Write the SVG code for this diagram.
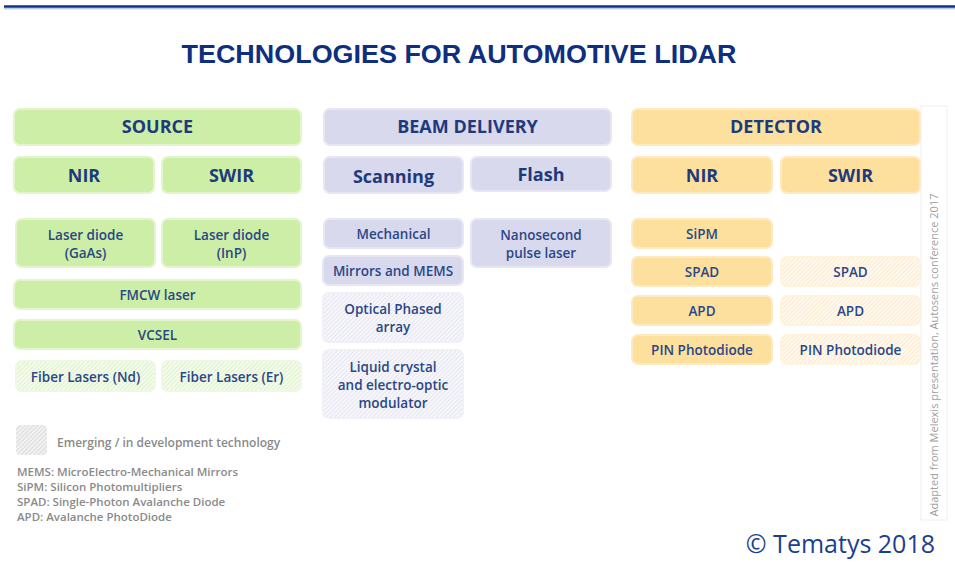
<svg xmlns="http://www.w3.org/2000/svg" width="955" height="568" viewBox="0 0 955 568">
<defs>
<pattern id="hg" width="3" height="3" patternUnits="userSpaceOnUse" patternTransform="rotate(45)"><rect width="3" height="3" fill="#f5fbee"/><line x1="0" y1="0" x2="0" y2="3" stroke="#d6f0b8" stroke-width="1.5"/></pattern>
<pattern id="hb" width="3" height="3" patternUnits="userSpaceOnUse" patternTransform="rotate(45)"><rect width="3" height="3" fill="#f7f7fb"/><line x1="0" y1="0" x2="0" y2="3" stroke="#e0e0ee" stroke-width="1.5"/></pattern>
<pattern id="ho" width="3" height="3" patternUnits="userSpaceOnUse" patternTransform="rotate(45)"><rect width="3" height="3" fill="#fff9ef"/><line x1="0" y1="0" x2="0" y2="3" stroke="#fce6c2" stroke-width="1.5"/></pattern>
<pattern id="hk" width="3" height="3" patternUnits="userSpaceOnUse" patternTransform="rotate(45)"><rect width="3" height="3" fill="#f2f2f2"/><line x1="0" y1="0" x2="0" y2="3" stroke="#d2d2d2" stroke-width="1.5"/></pattern>
</defs>
<style>
.g{fill:#cdeea6;stroke:#e2f5cc;stroke-width:2}
.gh{fill:url(#hg);stroke:#eef8e4;stroke-width:2}
.b{fill:#d9d9ee;stroke:#e6e6f4;stroke-width:2}
.bh{fill:url(#hb);stroke:#f0f0f8;stroke-width:2}
.o{fill:#fde09e;stroke:#fdeac0;stroke-width:2}
.oh{fill:url(#ho);stroke:#fff3dc;stroke-width:2}
text{font-family:"Open Sans","DejaVu Sans",sans-serif;fill:#233f7e;text-anchor:middle}
.h{font-size:18px;font-weight:bold;fill:#1d3a7d}
.t{font-size:13.5px;font-weight:600;fill:#2a4786}
.leg{font-size:12px;fill:#8a8a8a;text-anchor:start;font-weight:600}
</style>
<rect width="955" height="568" fill="#ffffff"/>
<line x1="4" y1="6.5" x2="955" y2="6.5" stroke="#0d3286" stroke-width="2.5"/>
<line x1="4" y1="8.8" x2="955" y2="8.8" stroke="#8aa2cc" stroke-width="0.8"/>
<text x="459" y="63" style="font-family:'Liberation Sans',Arial,sans-serif;font-size:25px;font-weight:bold;fill:#0e2f7f" textLength="555" lengthAdjust="spacingAndGlyphs">TECHNOLOGIES FOR AUTOMOTIVE LIDAR</text>

<g id="source"><rect class="g" x="14" y="109" width="287" height="36" rx="6"/><text class="h" x="157.5" y="133">SOURCE</text></g>
<g id="source-nir"><rect class="g" x="14" y="157" width="140" height="36" rx="6"/><text class="h" x="84" y="182">NIR</text></g>
<g id="source-swir"><rect class="g" x="162" y="157" width="139" height="36" rx="6"/><text class="h" x="231.5" y="182">SWIR</text></g>
<g id="laser-gaas"><rect class="g" x="16" y="219" width="139" height="48" rx="6"/><text class="t" x="85.5" y="240">Laser diode</text><text class="t" x="85.5" y="258">(GaAs)</text></g>
<g id="laser-inp"><rect class="g" x="162" y="219" width="139" height="48" rx="6"/><text class="t" x="231.5" y="240">Laser diode</text><text class="t" x="231.5" y="258">(InP)</text></g>
<g id="fmcw"><rect class="g" x="14" y="280" width="287" height="29" rx="6"/><text class="t" x="157.5" y="299.5">FMCW laser</text></g>
<g id="vcsel"><rect class="g" x="14" y="320" width="287" height="29" rx="6"/><text class="t" x="157.5" y="339.5">VCSEL</text></g>
<g id="fiber-nd"><rect class="gh" x="16" y="361" width="139" height="30" rx="6"/><text class="t" x="85.5" y="382">Fiber Lasers (Nd)</text></g>
<g id="fiber-er"><rect class="gh" x="162" y="361" width="139" height="30" rx="6"/><text class="t" x="231.5" y="382">Fiber Lasers (Er)</text></g>

<g id="beam"><rect class="b" x="324" y="109" width="287" height="36" rx="6"/><text class="h" x="467.5" y="133">BEAM DELIVERY</text></g>
<g id="scanning"><rect class="b" x="324" y="157" width="139" height="36" rx="6"/><text class="h" x="393.5" y="183">Scanning</text></g>
<g id="flash"><rect class="b" x="471" y="157" width="140" height="34" rx="6"/><text class="h" x="541" y="181">Flash</text></g>
<g id="mechanical"><rect class="b" x="324" y="219" width="139" height="29" rx="6"/><text class="t" x="393.5" y="239">Mechanical</text></g>
<g id="mems"><rect class="b" x="323" y="256" width="140" height="29" rx="6"/><text class="t" x="393" y="275.5">Mirrors and MEMS</text></g>
<g id="nanosecond"><rect class="b" x="471" y="219" width="140" height="48" rx="6"/><text class="t" x="541" y="240">Nanosecond</text><text class="t" x="541" y="258">pulse laser</text></g>
<g id="opa"><rect class="bh" x="323" y="293" width="140" height="49" rx="6"/><text class="t" x="393" y="314">Optical Phased</text><text class="t" x="393" y="332">array</text></g>
<g id="liquid"><rect class="bh" x="323" y="350" width="140" height="68" rx="6"/><text class="t" x="393" y="372">Liquid crystal</text><text class="t" x="393" y="390">and electro-optic</text><text class="t" x="393" y="408">modulator</text></g>

<g id="detector"><rect class="o" x="632" y="109" width="288" height="36" rx="6"/><text class="h" x="776" y="133">DETECTOR</text></g>
<g id="det-nir"><rect class="o" x="632" y="157" width="140" height="36" rx="6"/><text class="h" x="702" y="182">NIR</text></g>
<g id="det-swir"><rect class="o" x="781" y="157" width="139" height="36" rx="6"/><text class="h" x="850.5" y="182">SWIR</text></g>
<g id="sipm"><rect class="o" x="632" y="219" width="140" height="29" rx="6"/><text class="t" x="702" y="239">SiPM</text></g>
<g id="spad-nir"><rect class="o" x="632" y="257" width="140" height="29" rx="6"/><text class="t" x="702" y="277">SPAD</text></g>
<g id="spad-swir"><rect class="oh" x="781" y="257" width="139" height="29" rx="6"/><text class="t" x="850.5" y="277">SPAD</text></g>
<g id="apd-nir"><rect class="o" x="632" y="296" width="140" height="29" rx="6"/><text class="t" x="702" y="316">APD</text></g>
<g id="apd-swir"><rect class="oh" x="781" y="296" width="139" height="29" rx="6"/><text class="t" x="850.5" y="316">APD</text></g>
<g id="pin-nir"><rect class="o" x="632" y="335" width="140" height="29" rx="6"/><text class="t" x="702" y="355">PIN Photodiode</text></g>
<g id="pin-swir"><rect class="oh" x="781" y="335" width="139" height="29" rx="6"/><text class="t" x="850.5" y="355">PIN Photodiode</text></g>

<g id="connectors"></g>

<g id="source-note">
<rect x="921" y="106" width="26" height="414" fill="#ffffff" stroke="#efefef" stroke-width="1"/>
<text transform="translate(938,355) rotate(-90)" style="font-size:11px;fill:#a0a0a0">Adapted from Melexis presentation, Autosens conference  2017</text>
</g>

<g id="legend">
<rect x="16" y="425" width="31" height="30" rx="4" fill="url(#hk)"/>
<text class="leg" x="57" y="447">Emerging / in development technology</text>
<text class="leg" x="17" y="476" style="font-size:11.5px">MEMS: MicroElectro-Mechanical Mirrors</text>
<text class="leg" x="17" y="491" style="font-size:11.5px">SiPM: Silicon Photomultipliers</text>
<text class="leg" x="17" y="506" style="font-size:11.5px">SPAD: Single-Photon Avalanche Diode</text>
<text class="leg" x="17" y="521" style="font-size:11.5px">APD: Avalanche PhotoDiode</text>
</g>
<text x="935" y="553" style="font-size:25px;fill:#1b3f8f;text-anchor:end">© Tematys 2018</text>
</svg>
